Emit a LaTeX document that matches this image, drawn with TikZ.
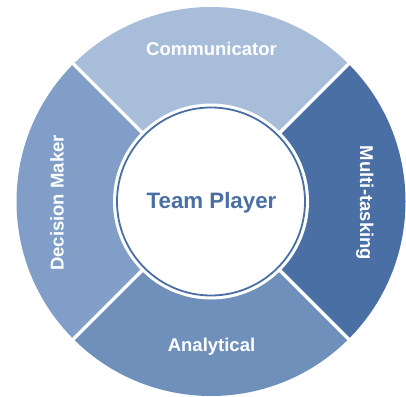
\documentclass[tikz,border=0pt]{standalone}
\usepackage{fontspec}
\setmainfont{Liberation Sans}
\definecolor{cTop}{HTML}{A8BDD9}
\definecolor{cRight}{HTML}{4A6FA5}
\definecolor{cBottom}{HTML}{6F90BB}
\definecolor{cLeft}{HTML}{809EC7}
\definecolor{cRing}{HTML}{4A6FA5}
\tikzset{
  seglabel/.style={text=white, font=\fontsize{18.5}{20}\selectfont\bfseries, inner sep=0pt, anchor=base},
  sepline/.style={white, line width=3.5pt},
}
\begin{document}
\begin{tikzpicture}[x=1pt,y=1pt]
\useasboundingbox (0,0) rectangle (406,396);
\coordinate (C) at (211,194.5);
\def\Ro{194.5}
\def\Ri{98}
% sectors
\fill[cTop] (C) -- +(45:\Ro) arc[start angle=45,end angle=135,radius=\Ro] -- cycle;
\fill[cLeft] (C) -- +(135:\Ro) arc[start angle=135,end angle=225,radius=\Ro] -- cycle;
\fill[cBottom] (C) -- +(225:\Ro) arc[start angle=225,end angle=315,radius=\Ro] -- cycle;
\fill[cRight] (C) -- +(315:\Ro) arc[start angle=315,end angle=405,radius=\Ro] -- cycle;
% separators
\foreach \a in {45,135,225,315}{
  \draw[sepline] (C) -- +(\a:\Ro+2);
}
% centre
\fill[white] (C) circle[radius=\Ri];
\draw[cRing, line width=1.8pt] (C) circle[radius=94];
% labels
\node[seglabel] (comm) at (211.5,340.5) {Communicator};
\node[seglabel] (anal) at (211.5,45) {Analytical};
\node[seglabel, rotate=90] (dec) at (63.5,193) {Decision Maker};
\node[seglabel, rotate=-90] (multi) at (360,193) {Multi-tasking};
\node[inner sep=0pt, anchor=base, text=cRing, font=\fontsize{22.3}{24}\selectfont\bfseries] (team) at (211.5,187) {Team Player};
\end{tikzpicture}
\end{document}
